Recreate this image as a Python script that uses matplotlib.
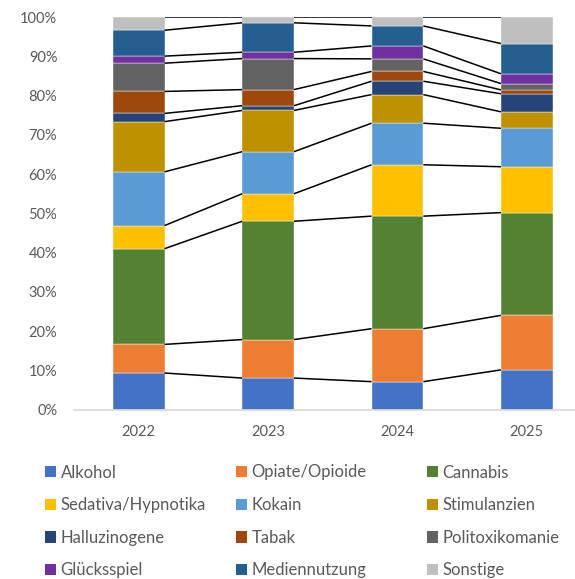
import matplotlib
matplotlib.use("Agg")
import matplotlib.pyplot as plt
import numpy as np
from matplotlib.patches import Patch

plt.rcParams['font.family'] = ['Lato', 'DejaVu Sans']

years = ['2022', '2023', '2024', '2025']
categories = ['Alkohol', 'Opiate/Opioide', 'Cannabis', 'Sedativa/Hypnotika', 'Kokain',
              'Stimulanzien', 'Halluzinogene', 'Tabak', 'Politoxikomanie',
              'Glücksspiel', 'Mediennutzung', 'Sonstige']
alkohol = [9.3, 8.0, 7.1, 10.1]
opiate = [7.3, 9.8, 13.5, 13.9]
cannabis = [24.4, 30.1, 28.7, 26.2]
sedativa = [5.9, 7.0, 13.1, 11.7]
kokain = [13.7, 10.7, 10.6, 9.8]
stimulanzien = [12.8, 10.5, 7.3, 4.2]
halluzinogene = [2.1, 1.2, 3.4, 4.6]
tabak = [5.6, 4.1, 2.5, 1.0]
politox = [7.2, 7.9, 3.2, 1.6]
gluecksspiel = [1.8, 1.6, 3.3, 2.5]
medien = [6.6, 7.5, 5.1, 7.7]
sonstige = [3.3, 1.4, 2.2, 6.7]
series = [alkohol, opiate, cannabis, sedativa, kokain, stimulanzien, halluzinogene,
          tabak, politox, gluecksspiel, medien, sonstige]
colors = ['#4472C4', '#ED7D31', '#548235', '#FFC000', '#5B9BD5', '#BF9000',
          '#264478', '#9E480E', '#636363', '#7030A0', '#255E91', '#BFBFBF']

W, H = 575, 579
fig = plt.figure(figsize=(W / 100, H / 100), dpi=100)
ax = fig.add_axes([74 / W, 1 - 409.5 / H, (591.5 - 74) / W, (409.5 - 17.3) / H])

data = np.array(series, dtype=float)
data = data / data.sum(axis=0)
x = np.arange(len(years))
bw = 0.4
bottom = np.zeros(len(years))
handles = []
for vals, col, name in zip(data, colors, categories):
    ax.bar(x, vals, bw, bottom=bottom, color=col, edgecolor='white', linewidth=0.3, zorder=2)
    top = bottom + vals
    for i in range(len(years) - 1):
        ax.plot([x[i] + bw / 2, x[i + 1] - bw / 2], [top[i], top[i + 1]],
                color='black', lw=1.1, zorder=3, solid_capstyle='butt')
    handles.append(Patch(facecolor=col, edgecolor='none', label=name))
    bottom = top

ax.set_xlim(-0.5, len(years) - 0.5)
ax.set_ylim(0, 1)
ax.set_xticks(x)
ax.set_xticklabels(years)
ax.set_yticks(np.linspace(0, 1, 11))
ax.set_yticklabels([f'{int(v)}%' for v in np.linspace(0, 100, 11)])
ax.tick_params(axis='both', length=0, colors='#595959', labelsize=10.5)
ax.tick_params(axis='y', pad=12)
ax.tick_params(axis='x', pad=11)
for s in ['top', 'right', 'left']:
    ax.spines[s].set_visible(False)
ax.spines['bottom'].set_color('#D9D9D9')
ax.spines['bottom'].set_linewidth(1.2)

col_x = [45, 236, 427]
for c in range(3):
    hs = handles[c::3]
    leg = fig.legend(handles=hs, loc='upper left',
                     bbox_to_anchor=(col_x[c] / W, 1 - 464.5 / H),
                     frameon=False, fontsize=12, handlelength=0.68, handleheight=0.68,
                     handletextpad=0.25, labelspacing=1.0, borderpad=0, borderaxespad=0,
                     labelcolor='#595959')

fig.savefig('out.png', dpi=100)
